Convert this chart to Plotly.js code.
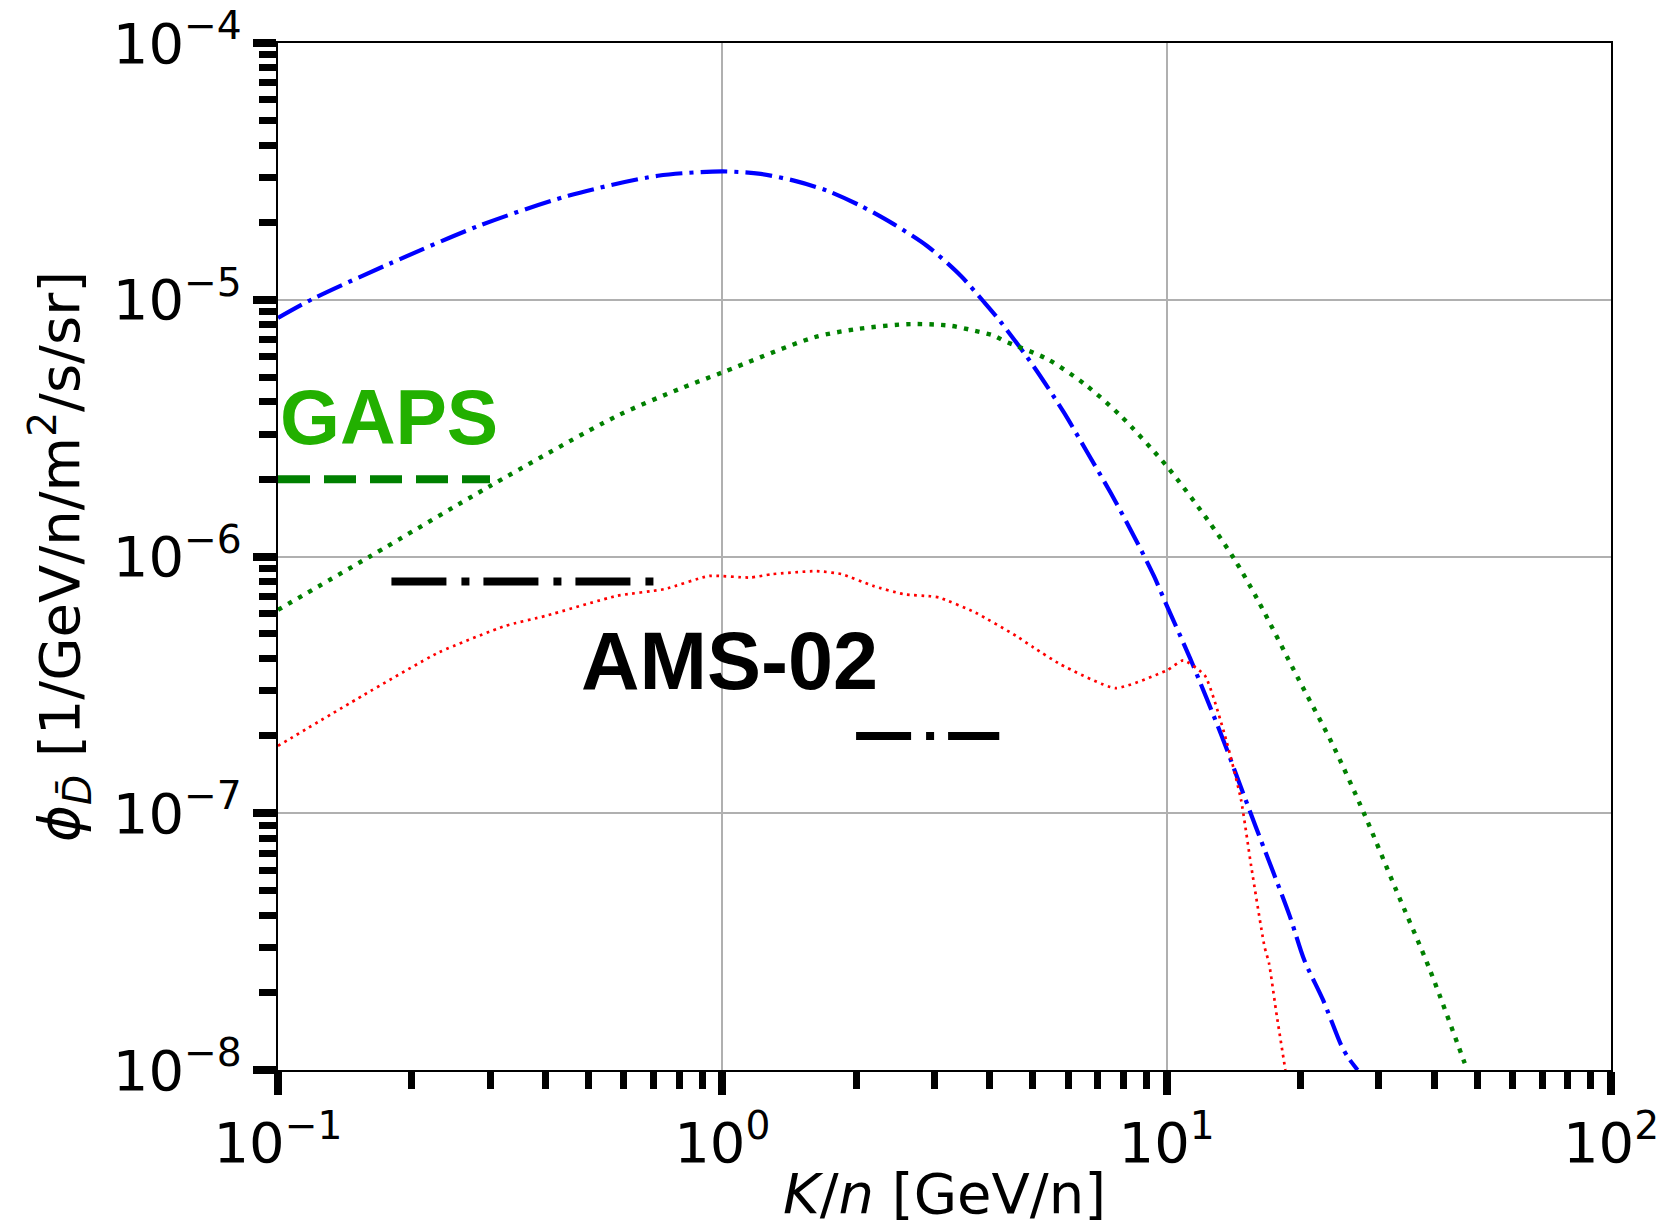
<!DOCTYPE html>
<html>
<head>
<meta charset="utf-8">
<script src="https://cdn.plot.ly/plotly-3.0.1.min.js"></script>
<style>
  html, body { margin: 0; padding: 0; background: #ffffff; }
  #chart { width: 1666px; height: 1226px; }
</style>
</head>
<body>
<div id="chart"></div>
<script>
// ---- data ----
const blueX = [0.1, 0.12, 0.178, 0.283, 0.45, 0.716, 1.0, 1.22, 1.45, 1.72, 2.05, 2.43, 2.89, 3.44, 3.88, 4.23, 5.02, 5.87, 6.63, 7.48, 8.44, 9.36, 10, 11.3, 13.3, 14.7, 15.85, 18.9, 20.4, 22.5, 24.7, 25.6, 26.9];
const blueY = [8.5e-6, 1.01e-5, 1.38e-5, 1.94e-5, 2.54e-5, 3.04e-5, 3.16e-5, 3.09e-5, 2.91e-5, 2.66e-5, 2.32e-5, 1.97e-5, 1.62e-5, 1.24e-5, 9.8e-6, 8.2e-6, 5.5e-6, 3.64e-6, 2.54e-6, 1.77e-6, 1.2e-6, 8.4e-7, 6.45e-7, 4.0e-7, 2.0e-7, 1.26e-7, 8.9e-8, 4.0e-8, 2.68e-8, 1.87e-8, 1.25e-8, 1.12e-8, 1.0e-8];

const greenX = [0.1, 0.161, 0.30, 0.58, 0.80, 1.0, 1.61, 2.01, 2.65, 3.26, 3.70, 4.09, 4.30, 5.38, 6.57, 7.88, 10, 12.4, 14.2, 16.0, 19.8, 23.5, 27.8, 32.8, 39.1, 46.7, 47.5];
const greenY = [6.2e-7, 1.0e-6, 1.88e-6, 3.53e-6, 4.49e-6, 5.21e-6, 7.14e-6, 7.69e-6, 8.04e-6, 7.92e-6, 7.57e-6, 7.24e-6, 6.92e-6, 5.88e-6, 4.66e-6, 3.53e-6, 2.25e-6, 1.38e-6, 9.77e-7, 6.82e-7, 3.33e-7, 1.89e-7, 1.0e-7, 5.05e-8, 2.46e-8, 1.08e-8, 1.0e-8];

const redX = [0.1, 0.155, 0.23, 0.325, 0.40, 0.58, 0.74, 0.935, 1.156, 1.29, 1.63, 1.86, 2.18, 2.56, 2.94, 3.08, 3.71, 4.58, 5.02, 5.77, 7.67, 10, 10.9, 12.2, 13.6, 14.7, 15.5, 16.6, 17.0, 17.7, 18.5];
const redY = [1.83e-7, 2.87e-7, 4.23e-7, 5.37e-7, 5.87e-7, 7.03e-7, 7.46e-7, 8.4e-7, 8.28e-7, 8.53e-7, 8.77e-7, 8.53e-7, 7.69e-7, 7.13e-7, 7.0e-7, 6.92e-7, 6.05e-7, 4.91e-7, 4.42e-7, 3.8e-7, 3.07e-7, 3.6e-7, 3.94e-7, 3.43e-7, 1.94e-7, 1.13e-7, 6.2e-8, 3.03e-8, 2.6e-8, 1.62e-8, 1.0e-8];

const gapsX = [0.1, 0.30];
const gapsY = [2e-6, 2e-6];
const ams1X = [0.18, 0.70];
const ams1Y = [8e-7, 8e-7];
const ams2X = [2.0, 4.2];
const ams2Y = [2e-7, 2e-7];

const xTickVals = [0.1, 1, 10, 100];
const xTickText = ['10<sup>\u22121</sup>', '10<sup>0</sup>', '10<sup>1</sup>', '10<sup>2</sup>'];
const yTickVals = [1e-8, 1e-7, 1e-6, 1e-5, 1e-4];
const yTickText = ['10<sup>\u22128</sup>', '10<sup>\u22127</sup>', '10<sup>\u22126</sup>', '10<sup>\u22125</sup>', '10<sup>\u22124</sup>'];

const gapsLabel = 'GAPS';
const amsLabel = 'AMS-02';

// minor tick positions (2..9 in each decade)
function minorTicks(lo, hi) {
  const out = [];
  for (let e = lo; e < hi; e++) {
    for (let m = 2; m <= 9; m++) out.push(m * Math.pow(10, e));
  }
  return out;
}

const traces = [
  {x: blueX, y: blueY, mode: 'lines', line: {color: '#0000ff', width: 4.2, dash: '27px,7px,4px,7px', shape: 'spline', smoothing: 0.8}, hoverinfo: 'skip'},
  {x: greenX, y: greenY, mode: 'lines', line: {color: '#008000', width: 4.4, dash: '4.4px,7.2px', shape: 'spline', smoothing: 0.8}, hoverinfo: 'skip'},
  {x: redX, y: redY, mode: 'lines', line: {color: '#ff0000', width: 2.7, dash: '2.7px,4.5px', shape: 'spline', smoothing: 0.5}, hoverinfo: 'skip'},
  {x: gapsX, y: gapsY, mode: 'lines', line: {color: '#008000', width: 8, dash: '32px,14px'}, hoverinfo: 'skip'},
  {x: ams1X, y: ams1Y, mode: 'lines', line: {color: '#000000', width: 8, dash: '55px,15px,8px,14px'}, hoverinfo: 'skip'},
  {x: ams2X, y: ams2Y, mode: 'lines', line: {color: '#000000', width: 8, dash: '55px,15px,8px,14px'}, hoverinfo: 'skip'}
];

const axisFont = {family: 'DejaVu Sans', size: 56, color: '#000000'};

const layout = {
  width: 1666,
  height: 1226,
  margin: {l: 278, r: 55, t: 43, b: 156},
  paper_bgcolor: '#ffffff',
  plot_bgcolor: '#ffffff',
  showlegend: false,
  xaxis: {
    type: 'log',
    range: [-1, 2],
    tickmode: 'array',
    tickvals: xTickVals,
    ticktext: xTickText,
    tickfont: axisFont,
    ticks: 'outside',
    ticklen: 23,
    tickwidth: 8,
    tickcolor: '#000000',
    showline: true,
    linecolor: '#000000',
    linewidth: 2,
    mirror: true,
    showgrid: true,
    gridcolor: '#b0b0b0',
    gridwidth: 2,
    zeroline: false,
    minor: {tickmode: 'array', tickvals: minorTicks(-1, 2), ticks: 'outside', ticklen: 17, tickwidth: 7, tickcolor: '#000000', showgrid: false},
    title: {text: '<i>K</i>/<i>n</i> [GeV/n]', font: {family: 'DejaVu Sans', size: 56, color: '#000000'}, standoff: 14}
  },
  yaxis: {
    type: 'log',
    range: [-8, -4],
    tickmode: 'array',
    tickvals: yTickVals,
    ticktext: yTickText,
    tickfont: axisFont,
    ticks: 'outside',
    ticklen: 23,
    tickwidth: 8,
    tickcolor: '#000000',
    showline: true,
    linecolor: '#000000',
    linewidth: 2,
    mirror: true,
    showgrid: true,
    gridcolor: '#b0b0b0',
    gridwidth: 2,
    zeroline: false,
    minor: {tickmode: 'array', tickvals: minorTicks(-8, -4), ticks: 'outside', ticklen: 17, tickwidth: 7, tickcolor: '#000000', showgrid: false},
    title: {text: '<i>\u03D5</i><sub><i>D\u0304</i></sub> [1/GeV/n/m<sup>2</sup>/s/sr]', font: {family: 'DejaVu Sans', size: 56, color: '#000000'}, standoff: 15}
  },
  annotations: [
    {text: '<b>' + gapsLabel + '</b>', xref: 'x', yref: 'y', x: -1, y: Math.log10(3.49e-6), xanchor: 'left', yanchor: 'middle', showarrow: false,
     font: {family: 'Liberation Sans, Arial, sans-serif', size: 77, color: '#22b000'}},
    {text: '<b>' + amsLabel + '</b>', xref: 'x', yref: 'y', x: -0.322, y: -6.408, xanchor: 'left', yanchor: 'middle', showarrow: false,
     font: {family: 'Liberation Sans, Arial, sans-serif', size: 81, color: '#000000'}}
  ]
};

Plotly.newPlot('chart', traces, layout, {displayModeBar: false, staticPlot: true});
</script>
</body>
</html>
